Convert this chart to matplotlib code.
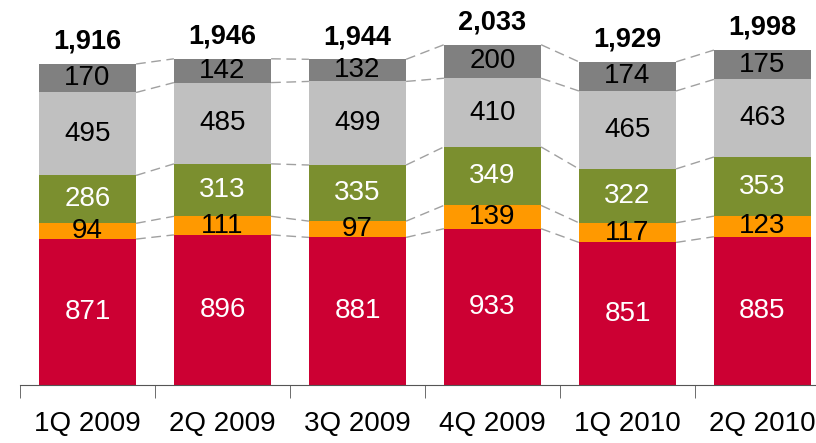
import matplotlib.pyplot as plt
import numpy as np

plt.rcParams['font.family'] = ['Liberation Sans', 'DejaVu Sans']

quarters = ["1Q 2009", "2Q 2009", "3Q 2009", "4Q 2009", "1Q 2010", "2Q 2010"]
red_vals = [871, 896, 881, 933, 851, 885]
orange_vals = [94, 111, 97, 139, 117, 123]
green_vals = [286, 313, 335, 349, 322, 353]
lightgray_vals = [495, 485, 499, 410, 465, 463]
darkgray_vals = [170, 142, 132, 200, 174, 175]
totals = ["1,916", "1,946", "1,944", "2,033", "1,929", "1,998"]

series = [red_vals, orange_vals, green_vals, lightgray_vals, darkgray_vals]
colors = ['#CC0033', '#FF9900', '#7B8F2F', '#C0C0C0', '#808080']
text_colors = ['white', 'black', 'white', 'black', 'black']

bar_width = 0.72
x = np.arange(len(quarters))

fig = plt.figure(figsize=(8.16, 4.43), dpi=100)
ax = fig.add_axes([20 / 816, 58 / 443, 810 / 816, 385 / 443])

bottom = np.zeros(len(quarters))
tops = []
for vals, c, tc in zip(series, colors, text_colors):
    vals = np.array(vals, dtype=float)
    ax.bar(x, vals, bottom=bottom, width=bar_width, color=c, zorder=2)
    for xi, b, v in zip(x, bottom, vals):
        ax.text(xi, b + v / 2, f"{int(v)}", ha='center', va='center',
                fontsize=20, color=tc, zorder=3)
    bottom = bottom + vals
    tops.append(bottom.copy())

# dashed connectors between neighbouring bars
for level in tops:
    for i in range(len(x) - 1):
        ax.plot([x[i] + bar_width / 2, x[i + 1] - bar_width / 2],
                [level[i], level[i + 1]], color='#A0A0A0', lw=1,
                linestyle=(0, (7, 4)), zorder=1)

for xi, top, t in zip(x, bottom, totals):
    ax.text(xi, top + 55, t, ha='center', va='bottom', fontsize=19.5,
            fontweight='bold')

ax.set_xlim(-0.5, 5.5)
ax.set_ylim(0, 2298)
for s in ['top', 'right', 'left']:
    ax.spines[s].set_visible(False)
ax.spines['bottom'].set_color('#555555')
ax.set_yticks([])
ax.set_xticks(x)
ax.set_xticklabels(quarters, fontsize=20)
ax.tick_params(axis='x', which='major', length=0, pad=19)
ax.set_xticks(np.arange(-0.5, 5.5, 1.0), minor=True)
ax.tick_params(axis='x', which='minor', length=9, color='#555555')

fig.savefig("out.png", dpi=100)
